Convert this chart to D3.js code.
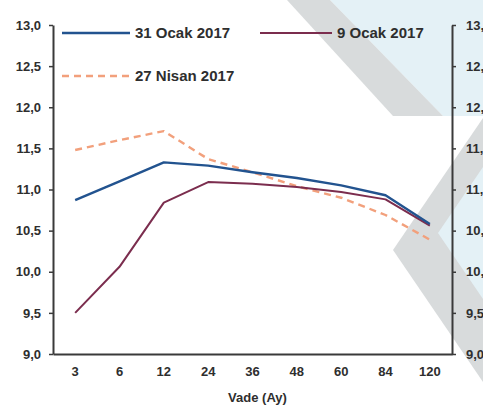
<!DOCTYPE html>
<html>
<head>
<meta charset="utf-8">
<script src="https://cdn.jsdelivr.net/npm/d3@7"></script>
<style>
  html, body { margin: 0; padding: 0; background: #fff; overflow: hidden; }
  svg { display: block; }
  text { font-family: "Liberation Sans", Arial, sans-serif; }
</style>
</head>
<body>
<svg id="chart" width="483" height="412"></svg>
<script>
// Yield curve: maturity (months) vs. rate (%)
const maturities = ["3", "6", "12", "24", "36", "48", "60", "84", "120"];
const ocak31 = [10.87, 11.10, 11.33, 11.29, 11.21, 11.14, 11.05, 10.93, 10.58];
const ocak9 = [9.50, 10.06, 10.84, 11.09, 11.07, 11.03, 10.97, 10.88, 10.56];
const nisan27 = [11.48, 11.60, 11.71, 11.37, 11.21, 11.04, 10.90, 10.69, 10.39];
const yTicks = [9.0, 9.5, 10.0, 10.5, 11.0, 11.5, 12.0, 12.5, 13.0];
const xTitle = "Vade (Ay)";

const series = [
  { name: "31 Ocak 2017", values: ocak31, color: "#22538f", width: 2.4, dash: null },
  { name: "9 Ocak 2017", values: ocak9, color: "#7b2d4e", width: 2.0, dash: null },
  { name: "27 Nisan 2017", values: nisan27, color: "#f2a07c", width: 2.4, dash: "7,5" }
];

const svg = d3.select("#chart");
const plotLeft = 53, plotRight = 452, plotTop = 25, plotBottom = 354;

// Decorative background shapes
const deco = svg.append("g");
deco.append("polygon")
  .attr("points", "330,0 483,0 483,116 443,116")
  .attr("fill", "#e4f1f6");
deco.append("polygon")
  .attr("points", "287,0 330,0 443,116 393,116")
  .attr("fill", "#d8dbdc");
deco.append("polygon")
  .attr("points", "483,118 393,250 483,382")
  .attr("fill", "#d8dbdc");
deco.append("polygon")
  .attr("points", "483,167 438,233 483,299")
  .attr("fill", "#e4f1f6");

const x = d3.scaleBand().domain(maturities).range([plotLeft, plotRight]).padding(0);
const y = d3.scaleLinear().domain([9, 13]).range([plotBottom, plotTop]);
const fmt = d => d.toFixed(1).replace(".", ",");

function styleAxis(g, size) {
  g.attr("font-family", null).attr("font-size", null);
  g.select(".domain").attr("stroke", "#3a3a3a").attr("stroke-width", 2);
  g.selectAll(".tick line").attr("stroke", "#3a3a3a").attr("stroke-width", 1.5);
  g.selectAll(".tick text")
    .attr("fill", "#2e2e2e")
    .style("font-size", size + "px")
    .style("font-weight", "bold");
}

// Left axis
svg.append("g")
  .attr("transform", `translate(${plotLeft},0)`)
  .call(d3.axisLeft(y).tickValues(yTicks).tickFormat(fmt).tickSize(4).tickSizeOuter(0).tickPadding(8))
  .call(g => styleAxis(g, 13));

// Right axis (runs off the right edge)
svg.append("g")
  .attr("transform", `translate(${plotRight},0)`)
  .call(d3.axisRight(y).tickValues(yTicks).tickFormat(fmt).tickSize(4).tickSizeOuter(0).tickPadding(10))
  .call(g => styleAxis(g, 13));

// Bottom axis
svg.append("g")
  .attr("transform", `translate(0,${plotBottom})`)
  .call(d3.axisBottom(x).tickSize(0).tickPadding(13))
  .call(g => styleAxis(g, 13));

svg.append("text")
  .attr("x", (plotLeft + plotRight) / 2 + 5)
  .attr("y", 402)
  .attr("text-anchor", "middle")
  .attr("fill", "#2e2e2e")
  .style("font-size", "13px")
  .style("font-weight", "bold")
  .text(xTitle);

// Series lines
const line = d3.line()
  .x((d, i) => x(maturities[i]) + x.bandwidth() / 2)
  .y(d => y(d));

series.slice().reverse().forEach(s => {
  svg.append("path")
    .datum(s.values)
    .attr("fill", "none")
    .attr("stroke", s.color)
    .attr("stroke-width", s.width)
    .attr("stroke-dasharray", s.dash)
    .attr("stroke-linejoin", "round")
    .attr("d", line);
});

// Legend
const legendPos = [
  { x1: 62, x2: 130, y: 33 },
  { x1: 260, x2: 332, y: 33 },
  { x1: 62, x2: 130, y: 76 }
];
series.forEach((s, i) => {
  const p = legendPos[i];
  svg.append("line")
    .attr("x1", p.x1).attr("x2", p.x2)
    .attr("y1", p.y).attr("y2", p.y)
    .attr("stroke", s.color)
    .attr("stroke-width", s.width)
    .attr("stroke-dasharray", s.dash);
  svg.append("text")
    .attr("x", p.x2 + 5)
    .attr("y", p.y + 5)
    .attr("fill", "#2e2e2e")
    .style("font-size", "15px")
    .style("font-weight", "bold")
    .text(s.name);
});
</script>
</body>
</html>
